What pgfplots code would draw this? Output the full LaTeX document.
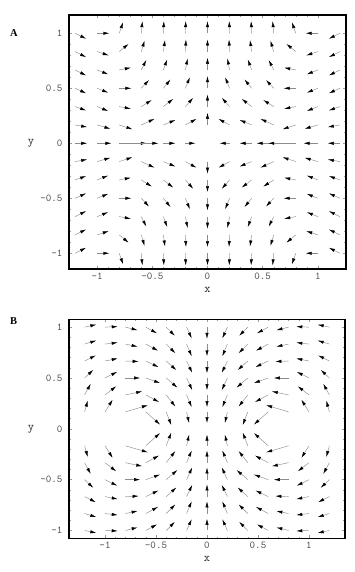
\documentclass[border=0pt]{standalone}
\usepackage{fontspec}
\setmainfont{Liberation Serif}
\usepackage{pgfplots}
\usepackage{pgfplotstable}
\pgfplotsset{compat=1.18}
\usetikzlibrary{arrows.meta}

\pgfplotstableread{
x y u v
-1.2 1 0.10 -0.05
-1.0 1 0.11 0
-0.8 1 0.035 0.10
-0.6 1 0.01 0.11
-0.4 1 0.005 0.11
-0.2 1 0.003 0.11
0 1 0 0.11
0.2 1 -0.003 0.11
0.4 1 -0.005 0.11
0.6 1 -0.01 0.11
0.8 1 -0.035 0.10
1.0 1 -0.11 0
1.2 1 -0.10 -0.05
-1.2 0.8333 0.10 -0.05
-1.0 0.8333 0.105 -0.035
-0.8 0.8333 0.085 0.07
-0.6 0.8333 0.03 0.10
-0.4 0.8333 0.015 0.105
-0.2 0.8333 0.005 0.11
0 0.8333 0 0.11
0.2 0.8333 -0.005 0.11
0.4 0.8333 -0.015 0.105
0.6 0.8333 -0.03 0.10
0.8 0.8333 -0.085 0.07
1.0 0.8333 -0.105 -0.035
1.2 0.8333 -0.10 -0.05
-1.2 0.6667 0.10 -0.05
-1.0 0.6667 0.10 -0.04
-0.8 0.6667 0.105 0.02
-0.6 0.6667 0.045 0.09
-0.4 0.6667 0.035 0.095
-0.2 0.6667 0.02 0.105
0 0.6667 0 0.11
0.2 0.6667 -0.02 0.105
0.4 0.6667 -0.035 0.095
0.6 0.6667 -0.045 0.09
0.8 0.6667 -0.105 0.02
1.0 0.6667 -0.10 -0.04
1.2 0.6667 -0.10 -0.05
-1.2 0.5 0.10 -0.045
-1.0 0.5 0.10 -0.04
-0.8 0.5 0.11 0
-0.6 0.5 0.07 0.075
-0.4 0.5 0.065 0.08
-0.2 0.5 0.04 0.10
0 0.5 0 0.11
0.2 0.5 -0.04 0.10
0.4 0.5 -0.065 0.08
0.6 0.5 -0.07 0.075
0.8 0.5 -0.11 0
1.0 0.5 -0.10 -0.04
1.2 0.5 -0.10 -0.045
-1.2 0.3333 0.10 -0.035
-1.0 0.3333 0.10 -0.04
-0.8 0.3333 0.105 -0.02
-0.6 0.3333 0.095 0.06
-0.4 0.3333 0.09 0.07
-0.2 0.3333 0.07 0.08
0 0.3333 0 0.11
0.2 0.3333 -0.07 0.08
0.4 0.3333 -0.09 0.07
0.6 0.3333 -0.095 0.06
0.8 0.3333 -0.105 -0.02
1.0 0.3333 -0.10 -0.04
1.2 0.3333 -0.10 -0.035
-1.2 0.1667 0.11 -0.02
-1.0 0.1667 0.12 -0.035
-0.8 0.1667 0.12 -0.04
-0.6 0.1667 0.12 0.055
-0.4 0.1667 0.11 0.045
-0.2 0.1667 0.10 0.055
0 0.1667 0 0.11
0.2 0.1667 -0.10 0.055
0.4 0.1667 -0.11 0.045
0.6 0.1667 -0.12 0.055
0.8 0.1667 -0.12 -0.04
1.0 0.1667 -0.12 -0.035
1.2 0.1667 -0.11 -0.02
-1.2 0 0.11 0
-1.0 0 0.13 0
-0.8 0 0.25 0
-0.6 0 0.155 0
-0.4 0 0.11 0
-0.2 0 0.09 0
0.2 0 -0.09 0
0.4 0 -0.11 0
0.6 0 -0.155 0
0.8 0 -0.25 0
1.0 0 -0.13 0
1.2 0 -0.11 0
-1.2 -0.1667 0.11 0.02
-1.0 -0.1667 0.12 0.035
-0.8 -0.1667 0.12 0.04
-0.6 -0.1667 0.12 -0.055
-0.4 -0.1667 0.11 -0.045
-0.2 -0.1667 0.10 -0.055
0 -0.1667 0 -0.11
0.2 -0.1667 -0.10 -0.055
0.4 -0.1667 -0.11 -0.045
0.6 -0.1667 -0.12 -0.055
0.8 -0.1667 -0.12 0.04
1.0 -0.1667 -0.12 0.035
1.2 -0.1667 -0.11 0.02
-1.2 -0.3333 0.10 0.035
-1.0 -0.3333 0.10 0.04
-0.8 -0.3333 0.105 0.02
-0.6 -0.3333 0.095 -0.06
-0.4 -0.3333 0.09 -0.07
-0.2 -0.3333 0.07 -0.08
0 -0.3333 0 -0.11
0.2 -0.3333 -0.07 -0.08
0.4 -0.3333 -0.09 -0.07
0.6 -0.3333 -0.095 -0.06
0.8 -0.3333 -0.105 0.02
1.0 -0.3333 -0.10 0.04
1.2 -0.3333 -0.10 0.035
-1.2 -0.5 0.10 0.045
-1.0 -0.5 0.10 0.04
-0.8 -0.5 0.11 0
-0.6 -0.5 0.07 -0.075
-0.4 -0.5 0.065 -0.08
-0.2 -0.5 0.04 -0.10
0 -0.5 0 -0.11
0.2 -0.5 -0.04 -0.10
0.4 -0.5 -0.065 -0.08
0.6 -0.5 -0.07 -0.075
0.8 -0.5 -0.11 0
1.0 -0.5 -0.10 0.04
1.2 -0.5 -0.10 0.045
-1.2 -0.6667 0.10 0.05
-1.0 -0.6667 0.10 0.04
-0.8 -0.6667 0.105 -0.02
-0.6 -0.6667 0.045 -0.09
-0.4 -0.6667 0.035 -0.095
-0.2 -0.6667 0.02 -0.105
0 -0.6667 0 -0.11
0.2 -0.6667 -0.02 -0.105
0.4 -0.6667 -0.035 -0.095
0.6 -0.6667 -0.045 -0.09
0.8 -0.6667 -0.105 -0.02
1.0 -0.6667 -0.10 0.04
1.2 -0.6667 -0.10 0.05
-1.2 -0.8333 0.10 0.05
-1.0 -0.8333 0.105 0.035
-0.8 -0.8333 0.085 -0.07
-0.6 -0.8333 0.03 -0.10
-0.4 -0.8333 0.015 -0.105
-0.2 -0.8333 0.005 -0.11
0 -0.8333 0 -0.11
0.2 -0.8333 -0.005 -0.11
0.4 -0.8333 -0.015 -0.105
0.6 -0.8333 -0.03 -0.10
0.8 -0.8333 -0.085 -0.07
1.0 -0.8333 -0.105 0.035
1.2 -0.8333 -0.10 0.05
-1.2 -1 0.10 0.05
-1.0 -1 0.11 0
-0.8 -1 0.035 -0.10
-0.6 -1 0.01 -0.11
-0.4 -1 0.005 -0.11
-0.2 -1 0.003 -0.11
0 -1 0 -0.11
0.2 -1 -0.003 -0.11
0.4 -1 -0.005 -0.11
0.6 -1 -0.01 -0.11
0.8 -1 -0.035 -0.10
1.0 -1 -0.11 0
1.2 -1 -0.10 0.05
}\tabA

\pgfplotstableread{
x y u v
-1.2 1 0.115 0.025
-1.0 1 0.125 0.005
-0.8 1 0.12 -0.03
-0.6 1 0.11 -0.06
-0.4 1 0.085 -0.085
-0.2 1 0.05 -0.11
0 1 0 -0.115
0.2 1 -0.05 -0.11
0.4 1 -0.085 -0.085
0.6 1 -0.11 -0.06
0.8 1 -0.12 -0.03
1.0 1 -0.125 0.005
1.2 1 -0.115 0.025
-1.2 0.8333 0.115 0.035
-1.0 0.8333 0.125 0.015
-0.8 0.8333 0.12 -0.025
-0.6 0.8333 0.12 -0.065
-0.4 0.8333 0.09 -0.09
-0.2 0.8333 0.05 -0.12
0 0.8333 0 -0.12
0.2 0.8333 -0.05 -0.12
0.4 0.8333 -0.09 -0.09
0.6 0.8333 -0.12 -0.065
0.8 0.8333 -0.12 -0.025
1.0 0.8333 -0.125 0.015
1.2 0.8333 -0.115 0.035
-1.2 0.6667 0.11 0.055
-1.0 0.6667 0.125 0.025
-0.8 0.6667 0.13 -0.005
-0.6 0.6667 0.125 -0.06
-0.4 0.6667 0.10 -0.09
-0.2 0.6667 0.055 -0.115
0 0.6667 0 -0.12
0.2 0.6667 -0.055 -0.115
0.4 0.6667 -0.10 -0.09
0.6 0.6667 -0.125 -0.06
0.8 0.6667 -0.13 -0.005
1.0 0.6667 -0.125 0.025
1.2 0.6667 -0.11 0.055
-1.2 0.5 0.085 0.08
-1.0 0.5 0.12 0.06
-0.8 0.5 0.145 0
-0.6 0.5 0.14 -0.05
-0.4 0.5 0.11 -0.095
-0.2 0.5 0.055 -0.12
0 0.5 0 -0.12
0.2 0.5 -0.055 -0.12
0.4 0.5 -0.11 -0.095
0.6 0.5 -0.14 -0.05
0.8 0.5 -0.145 0
1.0 0.5 -0.12 0.06
1.2 0.5 -0.085 0.08
-1.2 0.3333 0.06 0.11
-1.0 0.3333 0.11 0.085
-0.8 0.3333 0.165 0.035
-0.6 0.3333 0.13 -0.07
-0.4 0.3333 0.09 -0.115
-0.2 0.3333 0.05 -0.12
0 0.3333 0 -0.12
0.2 0.3333 -0.05 -0.12
0.4 0.3333 -0.09 -0.115
0.6 0.3333 -0.13 -0.07
0.8 0.3333 -0.165 0.035
1.0 0.3333 -0.11 0.085
1.2 0.3333 -0.06 0.11
-1.2 0.1667 0.03 0.11
-1.0 0.1667 0.075 0.12
-0.8 0.1667 0.22 0.065
-0.6 0.1667 0.14 -0.125
-0.4 0.1667 0.05 -0.13
-0.2 0.1667 0.025 -0.11
0 0.1667 0 -0.11
0.2 0.1667 -0.025 -0.11
0.4 0.1667 -0.05 -0.13
0.6 0.1667 -0.14 -0.125
0.8 0.1667 -0.22 0.065
1.0 0.1667 -0.075 0.12
1.2 0.1667 -0.03 0.11
-1.2 -0.1667 0.03 -0.11
-1.0 -0.1667 0.075 -0.12
-0.8 -0.1667 0.22 -0.065
-0.6 -0.1667 0.14 0.125
-0.4 -0.1667 0.05 0.13
-0.2 -0.1667 0.025 0.11
0 -0.1667 0 0.11
0.2 -0.1667 -0.025 0.11
0.4 -0.1667 -0.05 0.13
0.6 -0.1667 -0.14 0.125
0.8 -0.1667 -0.22 -0.065
1.0 -0.1667 -0.075 -0.12
1.2 -0.1667 -0.03 -0.11
-1.2 -0.3333 0.06 -0.11
-1.0 -0.3333 0.11 -0.085
-0.8 -0.3333 0.165 -0.035
-0.6 -0.3333 0.13 0.07
-0.4 -0.3333 0.09 0.115
-0.2 -0.3333 0.05 0.12
0 -0.3333 0 0.12
0.2 -0.3333 -0.05 0.12
0.4 -0.3333 -0.09 0.115
0.6 -0.3333 -0.13 0.07
0.8 -0.3333 -0.165 -0.035
1.0 -0.3333 -0.11 -0.085
1.2 -0.3333 -0.06 -0.11
-1.2 -0.5 0.085 -0.08
-1.0 -0.5 0.12 -0.06
-0.8 -0.5 0.145 0
-0.6 -0.5 0.14 0.05
-0.4 -0.5 0.11 0.095
-0.2 -0.5 0.055 0.12
0 -0.5 0 0.12
0.2 -0.5 -0.055 0.12
0.4 -0.5 -0.11 0.095
0.6 -0.5 -0.14 0.05
0.8 -0.5 -0.145 0
1.0 -0.5 -0.12 -0.06
1.2 -0.5 -0.085 -0.08
-1.2 -0.6667 0.11 -0.055
-1.0 -0.6667 0.125 -0.025
-0.8 -0.6667 0.13 0.005
-0.6 -0.6667 0.125 0.06
-0.4 -0.6667 0.10 0.09
-0.2 -0.6667 0.055 0.115
0 -0.6667 0 0.12
0.2 -0.6667 -0.055 0.115
0.4 -0.6667 -0.10 0.09
0.6 -0.6667 -0.125 0.06
0.8 -0.6667 -0.13 0.005
1.0 -0.6667 -0.125 -0.025
1.2 -0.6667 -0.11 -0.055
-1.2 -0.8333 0.115 -0.035
-1.0 -0.8333 0.125 -0.015
-0.8 -0.8333 0.12 0.025
-0.6 -0.8333 0.12 0.065
-0.4 -0.8333 0.09 0.09
-0.2 -0.8333 0.05 0.12
0 -0.8333 0 0.12
0.2 -0.8333 -0.05 0.12
0.4 -0.8333 -0.09 0.09
0.6 -0.8333 -0.12 0.065
0.8 -0.8333 -0.12 0.025
1.0 -0.8333 -0.125 -0.015
1.2 -0.8333 -0.115 -0.035
-1.2 -1 0.115 -0.025
-1.0 -1 0.125 -0.005
-0.8 -1 0.12 0.03
-0.6 -1 0.11 0.06
-0.4 -1 0.085 0.085
-0.2 -1 0.05 0.11
0 -1 0 0.115
0.2 -1 -0.05 0.11
0.4 -1 -0.085 0.085
0.6 -1 -0.11 0.06
0.8 -1 -0.12 0.03
1.0 -1 -0.125 -0.005
1.2 -1 -0.115 -0.025
}\tabB

\pgfplotsset{
  fieldaxis/.style={
    scale only axis,
    axis line style={line width=1.6pt, black},
    tick pos=both, ticklabel pos=left,
    tick align=inside,
    major tick length=3pt, minor tick length=1.6pt,
    minor x tick num=4, minor y tick num=4,
    every tick/.style={black!40, line width=0.4pt},
    xtick={-1,-0.5,0,0.5,1}, xticklabels={-1,-0.5,0,0.5,1},
    ytick={-1,-0.5,0,0.5,1}, yticklabels={-1,-0.5,0,0.5,1},
    xticklabel style={font=\ttfamily\fontsize{10.5}{11}\selectfont, text=black!70},
    yticklabel style={font=\ttfamily\fontsize{10.5}{11}\selectfont, text=black!70, xshift=-3pt},
    xlabel={x}, ylabel={y},
    label style={font=\ttfamily\fontsize{12}{13}\selectfont, text=black!85},
    ylabel style={rotate=-90, anchor=center},
    xlabel style={anchor=center},
  },
  arr/.style={quiver={u=\thisrow{u}, v=\thisrow{v}}, draw=black!45, line width=0.45pt,
    -{Latex[length=6pt, width=3.2pt, black]}}
}

\begin{document}
\begin{tikzpicture}
\begin{axis}[fieldaxis, at={(69pt,-15pt)}, anchor=north west,
  width=277pt, height=254pt,
  xmin=-1.255, xmax=1.255, ymin=-1.143, ymax=1.166,
  xlabel style={at={(axis description cs:0.5,-0.083)}},
  ylabel style={at={(axis description cs:-0.137,0.495)}}]
\addplot[arr] table {\tabA};
\end{axis}
\begin{axis}[fieldaxis, at={(69pt,-319.3pt)}, anchor=north west,
  width=276pt, height=219pt,
  xmin=-1.353, xmax=1.353, ymin=-1.077, ymax=1.077,
  xlabel style={at={(axis description cs:0.5,-0.092)}},
  ylabel style={at={(axis description cs:-0.138,0.5)}}]
\addplot[arr] table {\tabB};
\end{axis}
\node[anchor=base west, font=\bfseries\fontsize{10.5}{12}\selectfont] at (6.5pt,-37pt) {A};
\node[anchor=base west, font=\bfseries\fontsize{10.5}{12}\selectfont] at (6.5pt,-324pt) {B};
\pgfresetboundingbox
\path (0pt,0pt) rectangle (354pt,-572pt);
\end{tikzpicture}
\end{document}
